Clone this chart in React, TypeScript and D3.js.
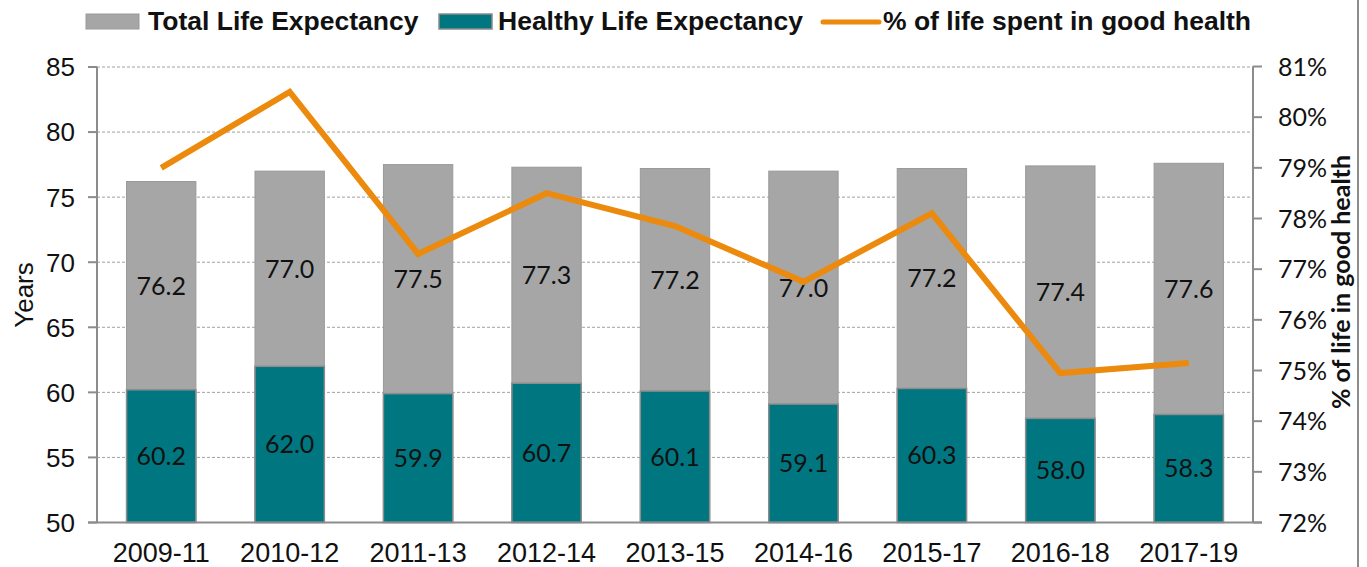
import React from "react";
import * as d3 from "d3";

const categories = ["2009-11", "2010-12", "2011-13", "2012-14", "2013-15", "2014-16", "2015-17", "2016-18", "2017-19"];
const totalLE = [76.2, 77.0, 77.5, 77.3, 77.2, 77.0, 77.2, 77.4, 77.6];
const healthyLE = [60.2, 62.0, 59.9, 60.7, 60.1, 59.1, 60.3, 58.0, 58.3];
const pctGoodHealth = [79.0, 80.5, 77.3, 78.5, 77.85, 76.75, 78.1, 74.95, 75.15];
const leftTicks = [50, 55, 60, 65, 70, 75, 80, 85];
const rightTicks = [72, 73, 74, 75, 76, 77, 78, 79, 80, 81];
const legendLabels = ["Total Life Expectancy", "Healthy Life Expectancy", "% of life spent in good health"];

const W = 1367;
const H = 567;
const PL = 97;
const PR = 1253;
const PT = 67;
const PB = 522.5;

const GRAY = "#A6A6A6";
const TEAL = "#007780";
const ORANGE = "#EB8A0C";
const AXIS = "#8C8C8C";

export default function App() {
  const x = d3.scaleBand<string>().domain(categories).range([PL, PR]).paddingInner(0.46).paddingOuter(0.23);
  const yL = d3.scaleLinear().domain([50, 85]).range([PB, PT]);
  const yR = d3.scaleLinear().domain([72, 81]).range([PB, PT - 0.5]);
  const line = d3
    .line<number>()
    .x((_, i) => (x(categories[i]) as number) + x.bandwidth() / 2)
    .y((d) => yR(d));

  const arial = "'Liberation Sans', Arial, sans-serif";
  const calibri = "Lato, 'Open Sans', sans-serif";

  return (
    <svg width={W} height={H} style={{ position: "absolute", left: 0, top: 0, background: "#fff" }}>
      <rect x={0} y={0} width={W} height={H} fill="#fff" />
      {leftTicks.filter((t) => t !== 50).map((t) => (
        <line key={"g" + t} x1={PL} x2={PR} y1={yL(t)} y2={yL(t)} stroke="#A0A0A0" strokeWidth={1} strokeDasharray="3,2" />
      ))}
      {categories.map((c, i) => (
        <g key={c}>
          <rect x={x(c)} y={yL(totalLE[i])} width={x.bandwidth()} height={yL(50) - yL(totalLE[i])} fill={GRAY} stroke="#9A9A9A" strokeWidth={1} />
          <rect x={x(c)} y={yL(healthyLE[i])} width={x.bandwidth()} height={yL(50) - yL(healthyLE[i])} fill={TEAL} stroke={AXIS} strokeWidth={1.5} />
          <text x={(x(c) as number) + x.bandwidth() / 2} y={(yL(totalLE[i]) + yL(healthyLE[i])) / 2} dy="0.36em" textAnchor="middle" fontFamily={calibri} fontSize={25} fill="#111">
            {totalLE[i].toFixed(1)}
          </text>
          <text x={(x(c) as number) + x.bandwidth() / 2} y={(yL(healthyLE[i]) + yL(50)) / 2} dy="0.36em" textAnchor="middle" fontFamily={calibri} fontSize={25} fill="#111">
            {healthyLE[i].toFixed(1)}
          </text>
          <text x={(x(c) as number) + x.bandwidth() / 2} y={562} textAnchor="middle" fontFamily={arial} fontSize={27} fill="#111">
            {c}
          </text>
        </g>
      ))}
      <path d={line(pctGoodHealth) || ""} fill="none" stroke={ORANGE} strokeWidth={6} strokeLinejoin="miter" />
      <line x1={PL} x2={PL} y1={PT} y2={PB} stroke={AXIS} strokeWidth={2} />
      <line x1={PR} x2={PR} y1={PT - 0.5} y2={PB} stroke={AXIS} strokeWidth={2} />
      <line x1={PL - 9} x2={PR + 9} y1={PB} y2={PB} stroke={AXIS} strokeWidth={2} />
      {leftTicks.map((t) => (
        <g key={"l" + t}>
          <line x1={PL - 9} x2={PL} y1={yL(t)} y2={yL(t)} stroke={AXIS} strokeWidth={2} />
          <text x={75} y={yL(t)} dy="0.36em" textAnchor="end" fontFamily={arial} fontSize={26} fill="#111">
            {t}
          </text>
        </g>
      ))}
      {rightTicks.map((t) => (
        <g key={"r" + t}>
          <line x1={PR} x2={PR + 9} y1={yR(t)} y2={yR(t)} stroke={AXIS} strokeWidth={2} />
          <text x={1278} y={yR(t)} dy="0.36em" textAnchor="start" fontFamily={calibri} fontSize={25} fill="#111">
            {t}%
          </text>
        </g>
      ))}
      <text transform="translate(33,295) rotate(-90)" textAnchor="middle" fontFamily={arial} fontSize={26} fill="#111">
        Years
      </text>
      <text transform="translate(1350,282) rotate(-90)" textAnchor="middle" fontFamily={calibri} fontWeight="bold" fontSize={25} fill="#111">
        % of life in good health
      </text>
      <line x1={1358} x2={1358} y1={0} y2={H} stroke={AXIS} strokeWidth={2} />
      <rect x={86} y={14} width={53} height={15} fill={GRAY} stroke="#9A9A9A" strokeWidth={1} />
      <text x={148} y={30} fontFamily={arial} fontWeight="bold" fontSize={26.5} fill="#111">
        {legendLabels[0]}
      </text>
      <rect x={439} y={14} width={53} height={15} fill={TEAL} stroke={AXIS} strokeWidth={1.5} />
      <text x={498} y={30} fontFamily={arial} fontWeight="bold" fontSize={26.5} fill="#111">
        {legendLabels[1]}
      </text>
      <line x1={823} x2={879} y1={22} y2={22} stroke={ORANGE} strokeWidth={5} strokeLinecap="round" />
      <text x={883} y={30} fontFamily={arial} fontWeight="bold" fontSize={26.5} fill="#111">
        {legendLabels[2]}
      </text>
    </svg>
  );
}
